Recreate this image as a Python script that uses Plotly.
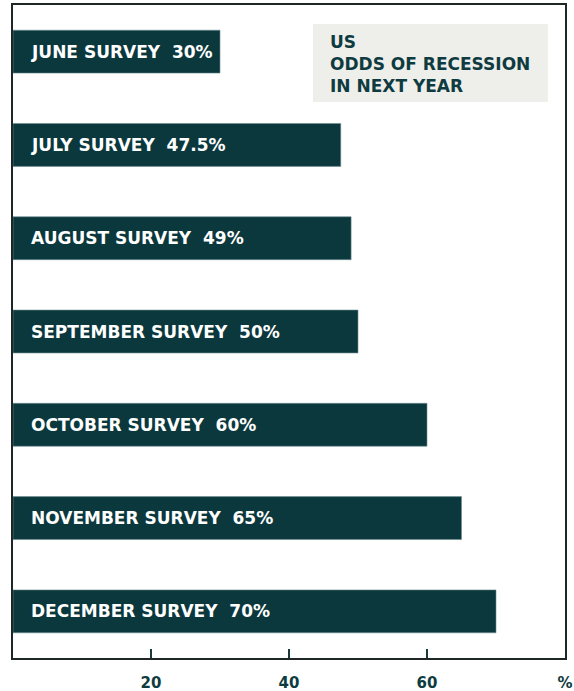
import plotly.graph_objects as go

months = ["JUNE", "JULY", "AUGUST", "SEPTEMBER", "OCTOBER", "NOVEMBER", "DECEMBER"]
odds = [30, 47.5, 49, 50, 60, 65, 70]
tick_vals = [20, 40, 60, 80]
tick_text = ["20", "40", "60", "%"]
title_lines = ["US", "ODDS OF RECESSION", "IN NEXT YEAR"]

BAR = "#0b383d"
TEXT = "#0e3b40"
FONT = "'DejaVu Sans', sans-serif"

cats = [m + " SURVEY" for m in months]

def fmt(v):
    return (f"{v:g}") + "%"

fig = go.Figure()
fig.add_trace(go.Bar(
    x=odds, y=cats, orientation="h",
    marker=dict(color=BAR, line=dict(color="#6f8f92", width=0.6)),
    hoverinfo="skip",
))

for c, v in zip(cats, odds):
    fig.add_annotation(
        x=0, y=c, xref="x", yref="y", xanchor="left", yanchor="middle",
        xshift=16, showarrow=False,
        text=f"{c}&nbsp;&nbsp;{fmt(v)}",
        font=dict(family=FONT, size=17, color="white", weight=700),
    )

# title box
fig.add_shape(type="rect", xref="paper", yref="paper",
              x0=0.5435, x1=0.969, y0=0.8515, y1=0.971,
              fillcolor="#eeeeea", line=dict(width=0), layer="below")
fig.add_annotation(
    xref="paper", yref="paper", x=0.5707, y=0.909, xanchor="left", yanchor="middle",
    showarrow=False, align="left",
    text="<br>".join(title_lines),
    font=dict(family=FONT, size=17, color=TEXT, weight=700),
)

fig.update_layout(
    width=574, height=691,
    margin=dict(l=13, r=9, t=5, b=33, autoexpand=False),
    paper_bgcolor="white", plot_bgcolor="white",
    bargap=0.54, showlegend=False,
)
fig.update_xaxes(
    range=[0, 80], tickvals=tick_vals, ticktext=tick_text,
    showgrid=False, zeroline=False, automargin=False,
    showline=True, linecolor="#1e2626", linewidth=2, mirror=True,
    ticks="inside", ticklen=9, tickwidth=2, tickcolor="#1c3a3c",
    ticklabelstandoff=10,
    tickfont=dict(family=FONT, size=15, color=TEXT, weight=700),
)
fig.update_yaxes(
    categoryorder="array", categoryarray=cats, autorange="reversed",
    showticklabels=False, showgrid=False, zeroline=False, automargin=False,
    showline=True, linecolor="#1e2626", linewidth=2, mirror=True,
)

fig.write_html("out.html", config={"displayModeBar": False},
               post_script="document.body.style.margin='0';")
